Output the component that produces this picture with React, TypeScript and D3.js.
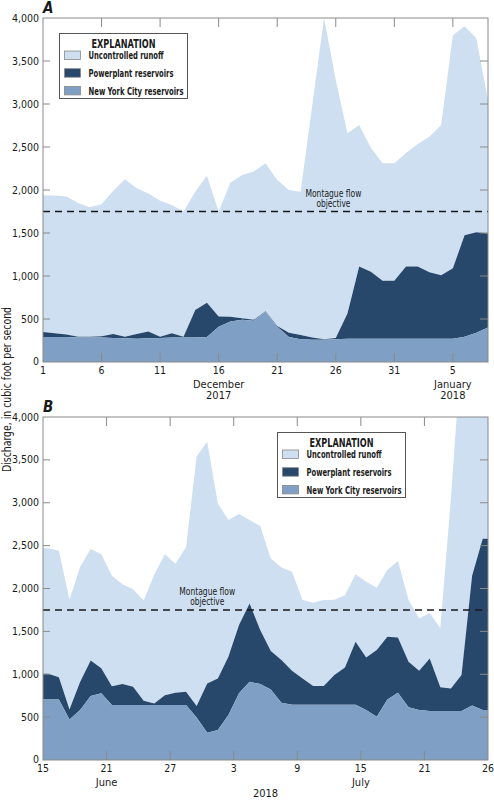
import * as d3 from "d3";

const FONT = "'Liberation Sans Narrow', 'Arial Narrow', 'DejaVu Sans Condensed', sans-serif";
const C_RUNOFF = "#cddff0";
const C_POWER = "#27476b";
const C_NYC = "#7f9fc5";
const C_FRAME = "#8a8a8a";

// Panel A: daily values, Dec 1 2017 .. Jan 8 2018 (cubic feet per second)
const nycA = [290, 290, 290, 285, 285, 285, 280, 275, 270, 275, 280, 285, 285, 285, 290, 410, 470, 490, 480, 585,
  410, 290, 265, 260, 260, 265, 270, 270, 270, 270, 270, 270, 270, 270, 270, 270, 295, 340, 400];
const powerA = [60, 45, 30, 10, 10, 15, 45, 20, 55, 80, 15, 50, 10, 320, 400, 120, 55, 20, 10, 5,
  10, 50, 50, 25, 5, 15, 295, 840, 780, 675, 675, 840, 840, 775, 740, 820, 1180, 1170, 1095];
const runoffA = [1590, 1600, 1605, 1555, 1505, 1535, 1665, 1830, 1695, 1605, 1580, 1490, 1455, 1375, 1475, 1220, 1560, 1665, 1725, 1720,
  1695, 1660, 1665, 2705, 3735, 3000, 2095, 1645, 1440, 1365, 1365, 1320, 1425, 1575, 1745, 2710, 2430, 2255, 1550];
const tickLabelsA = ["1", "6", "11", "16", "21", "26", "31", "5"];

// Panel B: daily values, Jun 15 .. Jul 26 2018
const nycB = [707, 707, 473, 582, 746, 777, 641, 641, 641, 641, 641, 641, 641, 641, 497, 318, 350, 524, 777, 913,
  885, 823, 668, 645, 645, 645, 645, 645, 645, 645, 583, 505, 707, 785, 614, 583, 571, 571, 571, 571, 637, 583];
const powerB = [298, 258, 117, 328, 414, 293, 219, 244, 214, 49, 19, 114, 144, 154, 133, 575, 601, 680, 796, 912,
  630, 447, 497, 395, 306, 217, 217, 345, 435, 734, 613, 777, 730, 644, 532, 458, 614, 276, 264, 419, 1513, 1997];
const runoffB = [1465, 1475, 1280, 1340, 1300, 1330, 1290, 1165, 1135, 1170, 1500, 1645, 1505, 1685, 2910, 2817, 2039, 1596, 1297, 975,
  1215, 1080, 1080, 1155, 914, 973, 1003, 880, 840, 786, 884, 728, 778, 891, 719, 609, 530, 688, 2215, 3810, 3850, 3920];
const tickLabelsB = ["15", "21", "27", "3", "9", "15", "21"];
const endLabelB = "26";

const legendItems = [
  { label: "Uncontrolled runoff", color: C_RUNOFF, len: 75 },
  { label: "Powerplant reservoirs", color: C_POWER, len: 85 },
  { label: "New York City reservoirs", color: C_NYC, len: 95 },
];

const yTicks = d3.range(0, 4001, 500);
const LEFT = 43;
const RIGHT = 488;

type PanelProps = {
  top: number;
  bottom: number;
  nyc: number[];
  power: number[];
  runoff: number[];
  days: number;
  offset: number;
  tickStep: number;
  tickLabels: string[];
  endLabel?: string;
  letter: string;
  legend: [number, number];
  montague: number;
  months: { text: string; day: number; line: number }[];
};

function Legend({ x, y }: { x: number; y: number }) {
  return (
    <g transform={`translate(${x},${y})`}>
      <rect width={128} height={65} fill="#fff" stroke="#555" strokeWidth={1} />
      <text x={64} y={14} textAnchor="middle" fontSize={11.5} fontWeight="bold" textLength={64} lengthAdjust="spacingAndGlyphs">EXPLANATION</text>
      {legendItems.map((d, i) => (
        <g key={d.label} transform={`translate(0,${17.5 + i * 17.7})`}>
          <rect x={5} width={16} height={8.5} fill={d.color} stroke="#888" strokeWidth={0.8} />
          <text x={29} y={8.2} fontSize={10} fontWeight="bold" textLength={d.len} lengthAdjust="spacingAndGlyphs">{d.label}</text>
        </g>
      ))}
    </g>
  );
}

function Panel(p: PanelProps) {
  const x = d3.scaleLinear().domain([0, p.days]).range([LEFT, RIGHT]);
  const y = d3.scaleLinear().domain([0, 4000]).range([p.bottom, p.top]);
  const rows = p.nyc.map((v, i) => ({ t: i + p.offset, nyc: v, power: p.power[i], runoff: p.runoff[i] }));
  if (p.offset > 0) {
    rows.unshift({ ...rows[0], t: 0 });
    rows.push({ ...rows[rows.length - 1], t: p.days });
  }
  const stack = d3.stack<any>().keys(["nyc", "power", "runoff"])(rows);
  const area = d3.area<any>()
    .x((d) => x(d.data.t))
    .y0((d) => y(d[0]))
    .y1((d) => y(d[1]));
  const colors = [C_NYC, C_POWER, C_RUNOFF];
  const clipId = "clip" + p.letter;
  const tickDays = p.tickLabels.map((_, i) => i * p.tickStep);
  const mid = (LEFT + RIGHT) / 2;
  return (
    <g>
      <defs>
        <clipPath id={clipId}>
          <rect x={LEFT} y={p.top} width={RIGHT - LEFT} height={p.bottom - p.top} />
        </clipPath>
      </defs>
      <g clipPath={`url(#${clipId})`}>
        {stack.slice().reverse().map((s, i) => (
          <path key={s.key} d={area(s) ?? ""} fill={colors[2 - i]} />
        ))}
      </g>
      <line x1={LEFT} x2={RIGHT} y1={y(1750)} y2={y(1750)} stroke="#1a1a1a" strokeWidth={1.5} strokeDasharray="7,5" />
      {/* frame and ticks */}
      <rect x={LEFT} y={p.top} width={RIGHT - LEFT} height={p.bottom - p.top} fill="none" stroke={C_FRAME} strokeWidth={1} />
      {yTicks.slice(1, -1).map((t) => (
        <g key={t} stroke={C_FRAME}>
          <line x1={LEFT} x2={LEFT + 7} y1={y(t)} y2={y(t)} />
          <line x1={RIGHT - 8} x2={RIGHT} y1={y(t)} y2={y(t)} />
        </g>
      ))}
      {tickDays.slice(1).map((t) => (
        <g key={t} stroke={C_FRAME}>
          <line x1={x(t)} x2={x(t)} y1={p.bottom} y2={p.bottom - 9} />
          <line x1={x(t)} x2={x(t)} y1={p.top} y2={p.top + 9} />
        </g>
      ))}
      {yTicks.map((t) => (
        <text key={t} x={39} y={y(t) + (t === 0 ? 2.5 : 3.5)} textAnchor="end" fontSize={10.5}>{d3.format(",")(t)}</text>
      ))}
      {p.tickLabels.map((l, i) => (
        <text key={i} x={x(tickDays[i])} y={p.bottom + 12} textAnchor="middle" fontSize={10.5}>{l}</text>
      ))}
      {p.endLabel && (
        <text x={x(p.days)} y={p.bottom + 12} textAnchor="middle" fontSize={10.5}>{p.endLabel}</text>
      )}
      {p.months.map((m, i) => (
        <text key={i} x={m.day < 0 ? mid : x(m.day)} y={p.bottom + 25.5 + m.line * 11.5} textAnchor="middle" fontSize={11}>{m.text}</text>
      ))}
      <text x={LEFT} y={p.top - 5} fontSize={15} fontWeight="bold" fontStyle="italic">{p.letter}</text>
      <text x={x(p.montague)} y={y(1750) - 15} textAnchor="middle" fontSize={10} textLength={56} lengthAdjust="spacingAndGlyphs">Montague flow</text>
      <text x={x(p.montague)} y={y(1750) - 4.5} textAnchor="middle" fontSize={10} textLength={34} lengthAdjust="spacingAndGlyphs">objective</text>
      <Legend x={p.legend[0]} y={p.legend[1]} />
    </g>
  );
}

export default function App() {
  return (
    <svg width={494} height={800} style={{ position: "absolute", left: 0, top: 0, background: "#fff" }} fontFamily={FONT} fill="#1a1a1a">
      <rect width={494} height={800} fill="#fff" />
      <Panel top={18} bottom={362} nyc={nycA} power={powerA} runoff={runoffA} days={38} offset={0} tickStep={5}
        tickLabels={tickLabelsA} letter="A" legend={[59.5, 33.5]} montague={24.8}
        months={[{ text: "December", day: 15, line: 0 }, { text: "2017", day: 15, line: 1 },
          { text: "January", day: 35, line: 0 }, { text: "2018", day: 35, line: 1 }]} />
      <Panel top={417} bottom={760} nyc={nycB} power={powerB} runoff={runoffB} days={42} offset={0.5} tickStep={6}
        tickLabels={tickLabelsB} endLabel={endLabelB} letter="B" legend={[277.5, 432.5]} montague={15.5}
        months={[{ text: "June", day: 6, line: 0 }, { text: "July", day: 30, line: 0 }, { text: "2018", day: -1, line: 1 }]} />
      <text transform="translate(11,389.5) rotate(-90)" textAnchor="middle" fontSize={11.5} textLength={165} lengthAdjust="spacingAndGlyphs">Discharge, in cubic foot per second</text>
    </svg>
  );
}
